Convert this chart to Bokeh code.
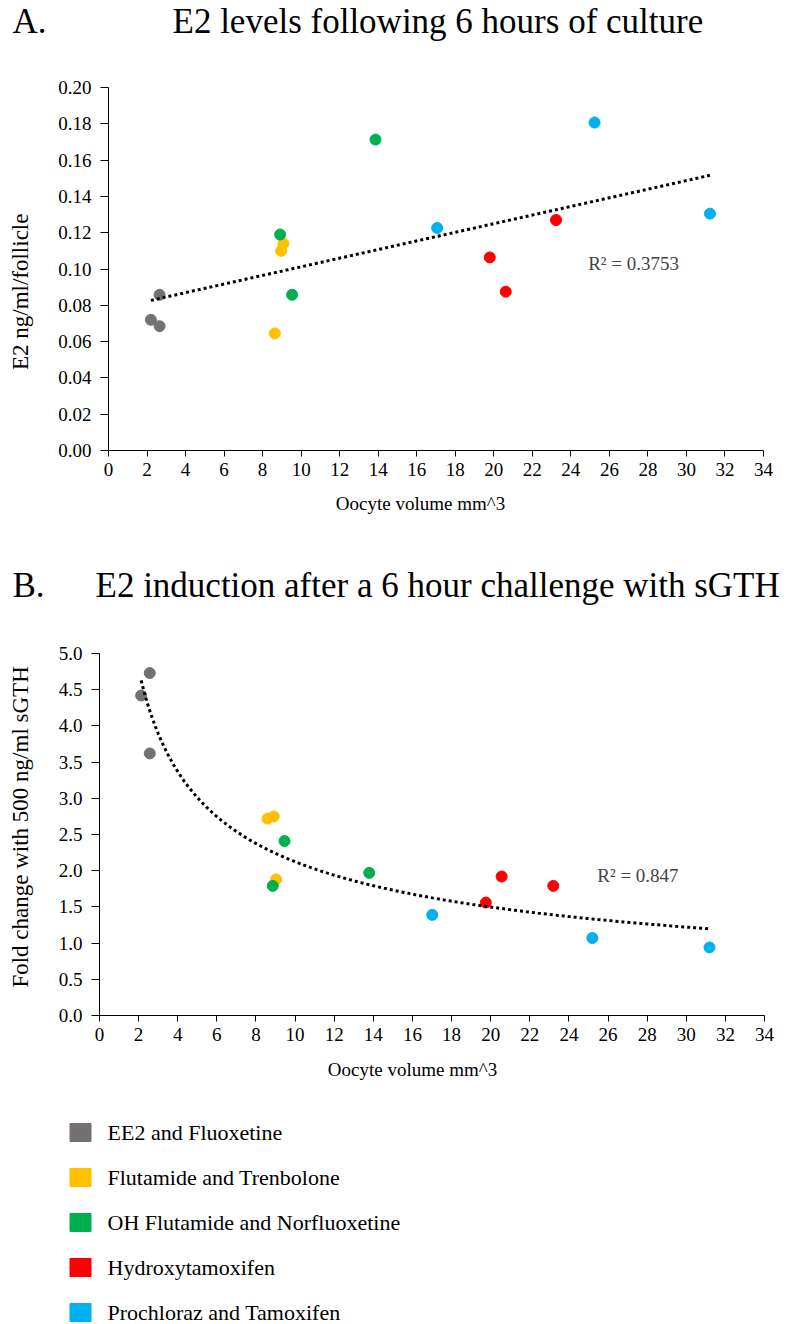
import numpy as np
from bokeh.plotting import figure
from bokeh.models import (Label, FixedTicker, NumeralTickFormatter, Range1d)
from bokeh.layouts import column, row
from bokeh.embed import file_html
from bokeh.resources import INLINE
from bokeh.core.properties import value

FONT = "Liberation Serif"
W = 793

# Treatment groups and their colours
groups = ["EE2 and Fluoxetine", "Flutamide and Trenbolone",
          "OH Flutamide and Norfluoxetine", "Hydroxytamoxifen",
          "Prochloraz and Tamoxifen"]
colors = ["#767171", "#FFC000", "#00B050", "#FF0000", "#00B0F0"]

# Panel A: E2 after 6 h of culture, per group (oocyte volume mm^3, E2 ng/ml/follicle)
vol_a_ee2 = [2.20, 2.65, 2.65]
e2_a_ee2 = [0.0720, 0.0685, 0.0858]
vol_a_flu = [8.63, 8.96, 9.08]
e2_a_flu = [0.0645, 0.1100, 0.1140]
vol_a_ohf = [8.91, 9.53, 13.86]
e2_a_ohf = [0.1190, 0.0858, 0.1713]
vol_a_hyd = [19.79, 20.62, 23.23]
e2_a_hyd = [0.1064, 0.0875, 0.1270]
vol_a_pro = [17.06, 25.23, 31.22]
e2_a_pro = [0.1226, 0.1807, 0.1305]

# Panel B: fold change with 500 ng/ml sGTH, per group
vol_b_ee2 = [2.13, 2.57, 2.57]
fc_b_ee2 = [4.42, 4.73, 3.62]
vol_b_flu = [8.59, 8.91, 9.03]
fc_b_flu = [2.72, 2.75, 1.88]
vol_b_ohf = [8.86, 9.46, 13.79]
fc_b_ohf = [1.79, 2.41, 1.97]
vol_b_hyd = [19.75, 20.56, 23.20]
fc_b_hyd = [1.56, 1.92, 1.79]
vol_b_pro = [17.01, 25.20, 31.19]
fc_b_pro = [1.39, 1.07, 0.94]

r2_a = "R² = 0.3753"
r2_b = "R² = 0.847"

x_ticks = list(range(0, 35, 2))
y_ticks_a = [round(0.02 * i, 2) for i in range(11)]
y_ticks_b = [round(0.5 * i, 1) for i in range(11)]

series_a = [(vol_a_ee2, e2_a_ee2), (vol_a_flu, e2_a_flu), (vol_a_ohf, e2_a_ohf),
            (vol_a_hyd, e2_a_hyd), (vol_a_pro, e2_a_pro)]
series_b = [(vol_b_ee2, fc_b_ee2), (vol_b_flu, fc_b_flu), (vol_b_ohf, fc_b_ohf),
            (vol_b_hyd, fc_b_hyd), (vol_b_pro, fc_b_pro)]


def text_fig(width, height):
    """Blank figure whose data space equals its pixel grid (y down)."""
    p = figure(width=width, height=height, x_range=Range1d(0, width),
               y_range=Range1d(height, 0), x_axis_type=None, y_axis_type=None,
               output_backend="svg", toolbar_location=None,
               min_border=0, min_border_left=0, min_border_right=0,
               min_border_top=0, min_border_bottom=0)
    p.xgrid.visible = False
    p.ygrid.visible = False
    p.outline_line_color = None
    return p


def style_axes(p, y_ticks, y_fmt):
    p.xaxis.ticker = FixedTicker(ticks=x_ticks)
    p.yaxis.ticker = FixedTicker(ticks=y_ticks)
    p.yaxis.formatter = NumeralTickFormatter(format=y_fmt)
    for ax in (p.xaxis, p.yaxis):
        ax.axis_line_color = "black"
        ax.axis_line_width = 1
        ax.major_tick_line_color = "black"
        ax.major_tick_in = 0
        ax.minor_tick_line_color = None
        ax.major_label_text_font = FONT
        ax.major_label_text_font_size = "19px"
        ax.major_label_text_color = "black"
    p.xaxis.major_tick_out = 6
    p.yaxis.major_tick_out = 8
    p.xaxis.major_label_standoff = 6
    p.yaxis.major_label_standoff = 9
    p.xgrid.visible = False
    p.ygrid.visible = False
    p.outline_line_color = None


def make_panel(width, height, left, right, top, bottom, yr, series, y_ticks, y_fmt):
    p = figure(width=width, height=height, x_range=Range1d(0, 34), y_range=yr,
               output_backend="svg", toolbar_location=None,
               min_border_left=left, min_border_right=right,
               min_border_top=top, min_border_bottom=bottom)
    style_axes(p, y_ticks, y_fmt)
    for (xs, ys), c in zip(series, colors):
        p.scatter(xs, ys, size=11, fill_color=c, line_color=c)
    return p


def pooled(series):
    xs = np.concatenate([np.asarray(s[0], float) for s in series])
    ys = np.concatenate([np.asarray(s[1], float) for s in series])
    return xs, ys


def title_label(x, y, text):
    return Label(x=x, y=y, text=text, text_font=FONT, text_font_size="35px",
                 text_color="black", text_baseline="alphabetic")


YLAB_W = 40

# ---- Panel A: linear trend ----
hdrA = text_fig(W, 60)
hdrA.add_layout(title_label(12, 21, "A."))
hdrA.add_layout(title_label(172, 21, "E2 levels following 6 hours of culture"))

pA = make_panel(W - YLAB_W, 430, 68, 30, 27, 40, Range1d(0, 0.2),
                series_a, y_ticks_a, "0.00")
xa, ya = pooled(series_a)
slope, icpt = np.polyfit(xa, ya, 1)
tx = np.array([xa.min(), xa.max()])
pA.line(tx, slope * tx + icpt, line_color="black", line_width=3, line_dash="3 3")
pA.add_layout(Label(x=24.9, y=0.1033, text=r2_a, text_font=FONT,
                    text_font_size="19px", text_baseline="middle"))

ylabA = text_fig(YLAB_W, 430)
ylabA.add_layout(Label(x=20, y=242, text="E2 ng/ml/follicle", angle=np.pi / 2,
                       text_font=FONT, text_font_size="23px", text_color="black",
                       text_align="center", text_baseline="middle"))

ftrA = text_fig(W, 50)
ftrA.add_layout(Label(x=420, y=13, text="Oocyte volume mm^3", text_font=FONT,
                      text_font_size="19px", text_color="black",
                      text_align="center", text_baseline="alphabetic"))

# ---- Panel B: power-law trend ----
hdrB = text_fig(W, 80)
hdrB.add_layout(title_label(12, 45, "B."))
hdrB.add_layout(title_label(95, 45, "E2 induction after a 6 hour challenge with sGTH"))

pB = make_panel(W - YLAB_W, 430, 59, 29, 33, 35, Range1d(0, 5),
                series_b, y_ticks_b, "0.0")
xb, yb = pooled(series_b)
b_exp, ln_a = np.polyfit(np.log(xb), np.log(yb), 1)
cx = np.linspace(xb.min(), xb.max(), 200)
pB.line(cx, np.exp(ln_a) * cx ** b_exp, line_color="black", line_width=3,
        line_dash="3 3")
pB.add_layout(Label(x=25.45, y=1.94, text=r2_b, text_font=FONT,
                    text_font_size="19px", text_baseline="middle"))

ylabB = text_fig(YLAB_W, 430)
ylabB.add_layout(Label(x=20, y=206, text="Fold change with 500 ng/ml sGTH",
                       angle=np.pi / 2, text_font=FONT, text_font_size="23px",
                       text_color="black", text_align="center",
                       text_baseline="middle"))

ftrB = text_fig(W, 50)
ftrB.add_layout(Label(x=412, y=19, text="Oocyte volume mm^3", text_font=FONT,
                      text_font_size="19px", text_color="black",
                      text_align="center", text_baseline="alphabetic"))

# ---- Legend block: one row per treatment group ----
LEG_H = 224
legend_rows = np.arange(len(groups))
pL = figure(width=W, height=LEG_H, x_range=Range1d(0, W),
            y_range=Range1d(4.267, -0.711), x_axis_type=None, y_axis_type=None,
            output_backend="svg", toolbar_location=None,
            min_border_left=0, min_border_right=0, min_border_top=0,
            min_border_bottom=0)
pL.xgrid.visible = False
pL.ygrid.visible = False
pL.outline_line_color = None
pL.rect(x=80, y=legend_rows, width=21, height=18, width_units="screen",
        height_units="screen", fill_color=colors, line_color=colors)
pL.text(x=107, y=legend_rows, text=groups, text_font=value(FONT),
        text_font_size="22px", text_color="black", text_baseline="middle")

layout = column(hdrA, row(ylabA, pA), ftrA, hdrB, row(ylabB, pB), ftrB, pL)
open("out.html", "w").write(file_html(layout, INLINE))
